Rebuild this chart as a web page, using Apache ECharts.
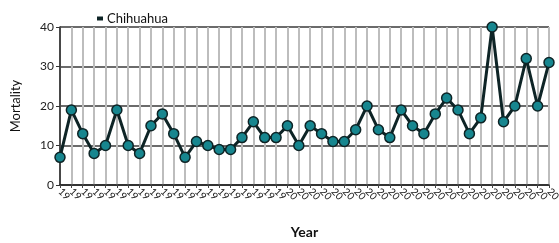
<!DOCTYPE html>
<html><head><meta charset="utf-8">
<script src="https://cdn.jsdelivr.net/npm/echarts@6/dist/echarts.min.js"></script>
<style>html,body{margin:0;padding:0;background:#fff}#c{width:559px;height:243px}</style>
</head><body><div id="c"></div>
<script>
var years = [];
for (var y = 1980; y <= 2023; y++) years.push(String(y));
var mortality = [7, 19, 13, 8, 10, 19, 10, 8, 15, 18, 13, 7, 11, 10, 9, 9, 12, 16, 12, 12, 15, 10, 15, 13, 11, 11, 14, 20, 14, 12, 19, 15, 13, 18, 22, 19, 13, 17, 40, 16, 20, 32, 20, 31];
var yTicks = [0, 10, 20, 30, 40];
var seriesName = 'Chihuahua';

var chart = echarts.init(document.getElementById('c'));
chart.setOption({
  animation: false,
  textStyle: {fontFamily: 'Lato, "Noto Sans", sans-serif'},
  legend: {
    data: [seriesName], left: 92, top: 7, icon: 'rect', itemWidth: 4, itemHeight: 2, itemGap: 3,
    itemStyle: {color: '#aaa'},
    textStyle: {fontSize: 13, color: '#111', fontFamily: 'Lato, sans-serif'}
  },
  grid: {left: 60, right: 10, top: 27, bottom: 58, containLabel: false, outerBoundsMode: 'none'},
  xAxis: {
    type: 'category', data: years, boundaryGap: false,
    name: 'Year', nameLocation: 'middle', nameGap: 40,
    nameTextStyle: {fontSize: 14, fontWeight: 'bold', color: '#111'},
    axisLine: {show: true, lineStyle: {color: '#222', width: 1.5}},
    axisTick: {show: true, alignWithLabel: true, length: 3, lineStyle: {color: '#444'}},
    axisLabel: {interval: 0, rotate: -45, fontSize: 10, color: '#111', width: 16, overflow: 'truncate', ellipsis: '', margin: 5, hideOverlap: false},
    splitLine: {show: true, interval: 0, lineStyle: {color: '#bdbdbd', width: 2}}
  },
  yAxis: {
    type: 'value', min: yTicks[0], max: yTicks[yTicks.length - 1], interval: 10,
    name: 'Mortality', nameLocation: 'middle', nameGap: 38,
    nameTextStyle: {fontSize: 13, color: '#111'},
    axisLine: {show: true, lineStyle: {color: '#222', width: 1.5}},
    axisTick: {show: true, length: 4, lineStyle: {color: '#333'}},
    axisLabel: {fontSize: 12, color: '#222', margin: 6},
    splitLine: {show: true, lineStyle: {color: '#3a3a3a', width: 1.5}}
  },
  series: [{
    name: seriesName, type: 'line', data: mortality,
    symbol: 'circle', symbolSize: 10, showAllSymbol: true,
    lineStyle: {color: '#0e2426', width: 3},
    itemStyle: {color: '#17868f', borderColor: '#0e2426', borderWidth: 1.5}
  }]
});
</script></body></html>
